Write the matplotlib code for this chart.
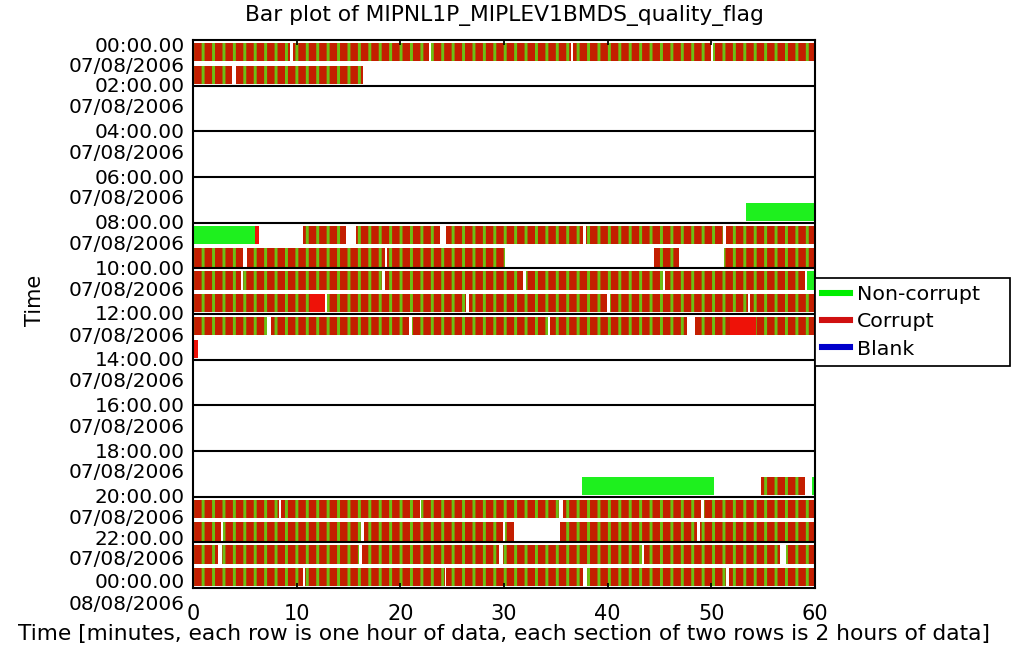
import matplotlib
matplotlib.use('Agg')
import matplotlib.pyplot as plt
from matplotlib.lines import Line2D

plt.rcParams['font.family'] = 'DejaVu Sans'
plt.rcParams['hatch.color'] = '#6cc014'
plt.rcParams['hatch.linewidth'] = 1.7

title = 'Bar plot of MIPNL1P_MIPLEV1BMDS_quality_flag'
x_label = 'Time [minutes, each row is one hour of data, each section of two rows is 2 hours of data]'
minute_ticks = [0, 10, 20, 30, 40, 50, 60]
section_times = ['00:00.00', '02:00.00', '04:00.00', '06:00.00', '08:00.00', '10:00.00', '12:00.00',
                 '14:00.00', '16:00.00', '18:00.00', '20:00.00', '22:00.00', '00:00.00']
section_dates = ['07/08/2006'] * 12 + ['08/08/2006']

# rows (hour of day) that have data; segments in minutes, flag C=corrupt, R=corrupt (dense), N=non-corrupt
row_hours = [0, 1, 7, 8, 9, 10, 11, 12, 13, 19, 20, 21, 22, 23]
seg_starts = [
    [0, 9.6, 23.0, 36.7, 50.2],
    [0, 4.1],
    [53.3],
    [0, 6.0, 10.6, 15.7, 24.4, 37.9, 51.4],
    [0, 5.2, 18.7, 44.5, 51.2],
    [0, 4.8, 18.5, 32.1, 45.5, 59.2],
    [0, 11.3, 12.9, 26.6, 40.2, 53.7],
    [0, 7.5, 21.1, 34.4, 48.4, 51.8, 54.3],
    [0],
    [37.5, 54.8, 59.7],
    [0, 8.45, 22.0, 35.7, 49.3],
    [0, 2.9, 16.5, 30.1, 35.4, 48.9],
    [0, 2.75, 16.3, 29.9, 43.5, 57.25],
    [0, 10.8, 24.4, 38.0, 51.7],
]
seg_ends = [
    [9.4, 22.8, 36.5, 50.0, 60],
    [3.8, 16.4],
    [60],
    [6.0, 6.35, 14.8, 23.8, 37.6, 51.1, 60],
    [4.8, 18.5, 30.1, 46.9, 60],
    [4.6, 18.2, 31.8, 45.3, 59.0, 60],
    [11.3, 12.7, 26.3, 39.9, 53.5, 60],
    [7.1, 20.8, 34.2, 47.7, 51.8, 54.3, 60],
    [0.45],
    [50.3, 59.0, 60],
    [8.3, 21.9, 35.3, 49.05, 60],
    [2.7, 16.2, 29.9, 31.0, 48.6, 60],
    [2.4, 16.0, 29.5, 43.3, 56.6, 60],
    [10.6, 24.3, 37.6, 51.45, 60],
]
seg_flags = [
    'CCCCC', 'CC', 'N', 'NRCCCCC', 'CCCCC', 'CCCCCN', 'CRCCCC',
    'CCCCCRC', 'R', 'NCN', 'CCCCC', 'CCCCCC', 'CCCCCC', 'CCCCC',
]

green = '#1ef01e'
red = '#ee1208'
stripe_red = '#c41e00'
stripe_green = '#6cc014'

fig = plt.figure(figsize=(1016 / 125, 664 / 125), dpi=125)
ax = fig.add_axes([193 / 1016, 1 - 588 / 664, 622 / 1016, 548 / 664])

for hour, starts, ends, flags in zip(row_hours, seg_starts, seg_ends, seg_flags):
    for s, e, f in zip(starts, ends, flags):
        if f == 'N':
            ax.barh(hour + 0.53, e - s, left=s, height=0.8, color=green, linewidth=0)
        elif f == 'R':
            ax.barh(hour + 0.53, e - s, left=s, height=0.8, color=red, linewidth=0)
        else:
            ax.barh(hour + 0.53, e - s, left=s, height=0.8, facecolor=stripe_red,
                    edgecolor=stripe_green, linewidth=0, hatch='||')

for h in range(2, 24, 2):
    ax.axhline(h, color='black', lw=1.2)

ax.set_xlim(0, 60)
ax.set_ylim(24, 0)
ax.set_xticks(minute_ticks)
ax.tick_params(axis='x', direction='in', top=True, length=3, width=1, labelsize=12, pad=9)
ax.set_yticks([])
for sp in ax.spines.values():
    sp.set_linewidth(1.2)

# y labels: time on the boundary, date just below (ends squeezed like the original)
ytr = ax.get_yaxis_transform()
last = len(section_times) - 1
for i, (t, d) in enumerate(zip(section_times, section_dates)):
    off, gap = 1, 21
    if i == 0:
        off = 6
    elif i == last - 1:
        off, gap = -3, 20
    elif i == last:
        off = -5
    ax.annotate(t, xy=(0, 2 * i), xycoords=ytr, xytext=(-8, -off), textcoords='offset pixels',
                ha='right', va='center', fontsize=11.5)
    ax.annotate(d, xy=(0, 2 * i), xycoords=ytr, xytext=(-8, -off - gap), textcoords='offset pixels',
                ha='right', va='center', fontsize=11.5)

ax.set_title(title, fontsize=12.5, pad=11)
ax.set_xlabel(x_label, fontsize=12.5, labelpad=0)
fig.text(35 / 1016, 1 - 300 / 664, 'Time', rotation=90, ha='center', va='center', fontsize=12)

handles = [Line2D([], [], color='#00ee00', lw=3.5),
           Line2D([], [], color='#d01010', lw=3.5),
           Line2D([], [], color='#0000cc', lw=3.5)]
leg = ax.legend(handles, ['Non-corrupt', 'Corrupt', 'Blank'], loc='upper left',
                bbox_to_anchor=(1.0, 0.4015, 0.3135, 0.1642), mode='expand', borderaxespad=0,
                fontsize=11.8, handlelength=1.35, handletextpad=0.35, labelspacing=0.4,
                borderpad=0.35, fancybox=False, framealpha=1, edgecolor='black')
leg.get_frame().set_linewidth(1.0)

fig.savefig('out.png', dpi=125)
